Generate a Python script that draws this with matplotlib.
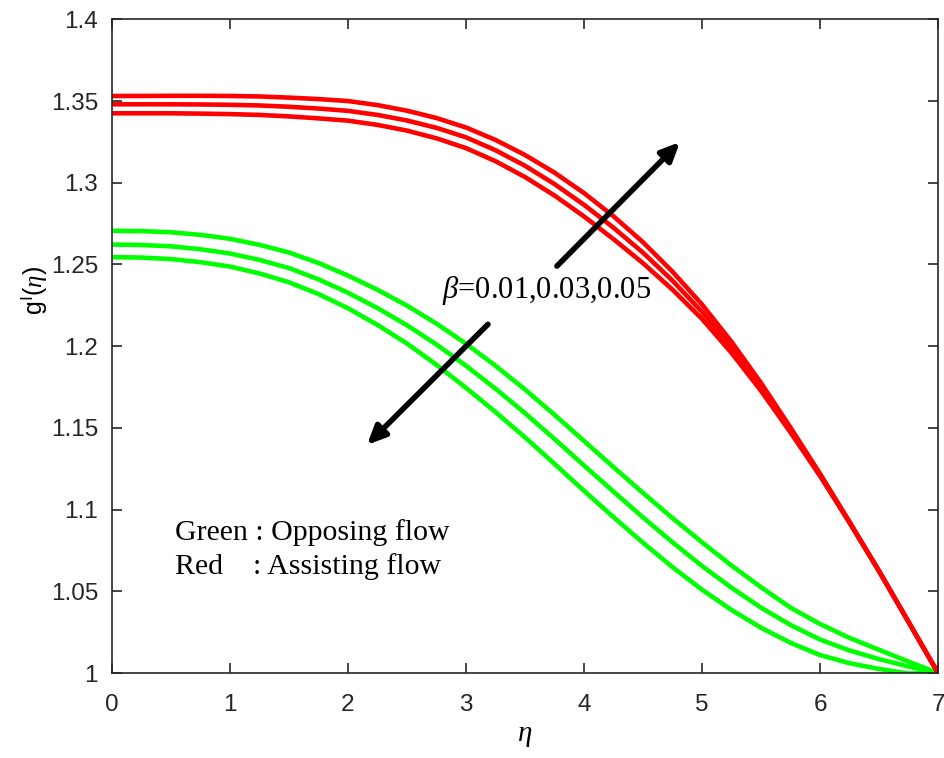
import numpy as np
import matplotlib
matplotlib.use("Agg")
import matplotlib.pyplot as plt

plt.rcParams.update({
    "font.family": "Liberation Sans",
    "mathtext.fontset": "custom", "mathtext.rm": "Liberation Sans",
    "mathtext.it": "Liberation Serif:italic", "mathtext.sf": "Liberation Sans",
    "axes.edgecolor": "#262626", "axes.linewidth": 1.2,
    "xtick.direction": "in", "ytick.direction": "in",
    "xtick.top": True, "ytick.right": True,
    "xtick.color": "#262626", "ytick.color": "#262626",
})

# eta samples
eta = [0, 0.25, 0.5, 0.75, 1, 1.25, 1.5, 1.75, 2, 2.25, 2.5, 2.75, 3, 3.25, 3.5,
       3.75, 4, 4.25, 4.5, 4.75, 5, 5.25, 5.5, 5.75, 6, 6.25, 6.5, 6.75, 7]

# assisting flow (red), beta = 0.01, 0.03, 0.05
red_1 = [1.3425, 1.3425, 1.3425, 1.3423, 1.3420, 1.3415, 1.3406, 1.3394, 1.3380, 1.3354,
         1.3319, 1.3272, 1.3212, 1.3132, 1.3035, 1.2922, 1.2794, 1.2655, 1.2508, 1.2346,
         1.2167, 1.1959, 1.1727, 1.1472, 1.1206, 1.0920, 1.0624, 1.0313, 1.0]
red_2 = [1.3480, 1.3480, 1.3480, 1.3479, 1.3477, 1.3473, 1.3465, 1.3454, 1.3440, 1.3415,
         1.3381, 1.3336, 1.3278, 1.3199, 1.3104, 1.2992, 1.2865, 1.2725, 1.2572, 1.2401,
         1.2210, 1.1992, 1.1750, 1.1487, 1.1213, 1.0922, 1.0624, 1.0313, 1.0]
red_3 = [1.3531, 1.3531, 1.3532, 1.3532, 1.3531, 1.3528, 1.3521, 1.3512, 1.3500, 1.3475,
         1.3441, 1.3396, 1.3338, 1.3262, 1.3170, 1.3062, 1.2937, 1.2795, 1.2636, 1.2456,
         1.2255, 1.2027, 1.1775, 1.1502, 1.1220, 1.0925, 1.0624, 1.0313, 1.0]

# opposing flow (green)
green_1 = [1.2706, 1.2704, 1.2697, 1.2681, 1.2657, 1.2620, 1.2573, 1.2509, 1.2432, 1.2345,
           1.2248, 1.2138, 1.2015, 1.1880, 1.1735, 1.1580, 1.1420, 1.1260, 1.1102, 1.0948,
           1.0800, 1.0658, 1.0525, 1.0400, 1.0300, 1.0215, 1.0142, 1.0070, 1.0]
green_2 = [1.2622, 1.2619, 1.2611, 1.2593, 1.2567, 1.2528, 1.2478, 1.2409, 1.2327, 1.2233,
           1.2128, 1.2010, 1.1880, 1.1740, 1.1590, 1.1432, 1.1270, 1.1110, 1.0952, 1.0800,
           1.0655, 1.0522, 1.0400, 1.0294, 1.0205, 1.0138, 1.0085, 1.0040, 1.0]
green_3 = [1.2545, 1.2542, 1.2533, 1.2514, 1.2487, 1.2445, 1.2391, 1.2319, 1.2232, 1.2130,
           1.2016, 1.1886, 1.1745, 1.1597, 1.1442, 1.1280, 1.1115, 1.0954, 1.0797, 1.0648,
           1.0510, 1.0386, 1.0277, 1.0185, 1.0110, 1.0060, 1.0025, 0.9997, 1.0]

RED = "#FF0000"
GREEN = "#00FF00"

fig = plt.figure(figsize=(9.45, 7.58), dpi=100)
ax = fig.add_axes([0.1185, 0.1121, 0.8741, 0.8624])

for ys in (green_1, green_2, green_3):
    ax.plot(eta, ys, color=GREEN, lw=3.3, solid_joinstyle="round")
for ys in (red_1, red_2, red_3):
    ax.plot(eta, ys, color=RED, lw=3.3, solid_joinstyle="round")

ax.set_xlim(0, 7)
ax.set_ylim(1, 1.4)
ax.set_xticks(range(8))
ax.set_yticks([1, 1.05, 1.1, 1.15, 1.2, 1.25, 1.3, 1.35, 1.4])
ax.set_yticklabels(["1", "1.05", "1.1", "1.15", "1.2", "1.25", "1.3", "1.35", "1.4"])
ax.tick_params(labelsize=17.5, length=7, width=1.2, pad=10)
ax.tick_params(axis="x", pad=15)

ax.set_xlabel(r"$\eta$", fontsize=21, labelpad=4)
ax.set_ylabel(r"g$^{\mathrm{I}}$($\eta$)", fontsize=18)
ax.yaxis.set_label_coords(-0.076, 0.585)

# beta annotation with arrows
arrow = dict(arrowstyle="-|>,head_length=1.1,head_width=0.5", color="black", lw=4)
ax.annotate("", xy=(4.83, 1.3261), xytext=(3.754, 1.2478), arrowprops=arrow)
ax.annotate("", xy=(2.144, 1.1384), xytext=(3.203, 1.2146), arrowprops=arrow)
ax.text(2.80, 1.2343, r"$\beta$=0.01,0.03,0.05", fontsize=22, family="Liberation Serif", va="center")

ax.text(0.534, 1.0862, "Green : Opposing flow", fontsize=21.5, family="Liberation Serif", va="center")
ax.text(0.534, 1.0654, "Red    : Assisting flow", fontsize=21.5, family="Liberation Serif", va="center")

fig.savefig("out.png", dpi=100)
